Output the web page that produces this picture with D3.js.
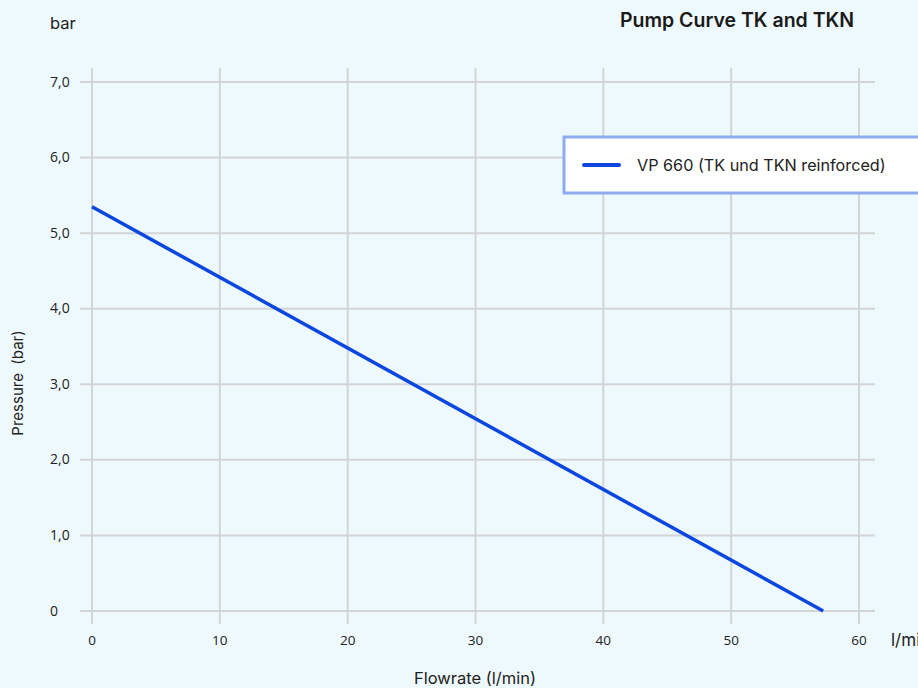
<!DOCTYPE html>
<html>
<head>
<meta charset="utf-8">
<script src="https://cdn.jsdelivr.net/npm/d3@7"></script>
<style>
  body { margin: 0; background: #eef9fd; }
  svg { display: block; font-family: Inter, Roboto, sans-serif; }
</style>
</head>
<body>
<div id="chart-container"></div>
<script>
// chart data
const seriesName = "VP 660 (TK und TKN reinforced)";
const flowrate = [0, 57.2];
const pressure = [5.35, 0];
const xTicks = [0, 10, 20, 30, 40, 50, 60];
const yTicks = [0, 1, 2, 3, 4, 5, 6, 7];
const yTickLabels = ["0", "1,0", "2,0", "3,0", "4,0", "5,0", "6,0", "7,0"];

const width = 918;
const height = 688;

const svg = d3.select("#chart-container")
    .append("svg")
    .attr("width", width)
    .attr("height", height);

svg.append("rect").attr("width", width).attr("height", height).attr("fill", "#eef9fd");

const xScale = d3.scaleLinear().domain([0, 60]).range([92, 859]);
const yScale = d3.scaleLinear().domain([0, 7]).range([611, 82]);

// grid
svg.selectAll(".vgrid")
    .data(xTicks)
    .enter()
    .append("line")
    .attr("x1", d => xScale(d))
    .attr("x2", d => xScale(d))
    .attr("y1", 68)
    .attr("y2", 624)
    .attr("stroke", "#d2d4d6")
    .attr("stroke-width", 2);

svg.selectAll(".hgrid")
    .data(yTicks)
    .enter()
    .append("line")
    .attr("x1", 80)
    .attr("x2", 875)
    .attr("y1", d => yScale(d))
    .attr("y2", d => yScale(d))
    .attr("stroke", "#d2d4d6")
    .attr("stroke-width", 2);

// tick labels
svg.selectAll(".xlab")
    .data(xTicks)
    .enter()
    .append("text")
    .attr("x", d => xScale(d))
    .attr("y", 645)
    .attr("text-anchor", "middle")
    .attr("font-family", "'Open Sans', sans-serif")
    .attr("font-size", 13.5)
    .attr("fill", "#222")
    .text(d => d);

svg.selectAll(".ylab")
    .data(yTicks)
    .enter()
    .append("text")
    .attr("x", 50)
    .attr("y", d => yScale(d) + 4.5)
    .attr("font-family", "'Open Sans', sans-serif")
    .attr("font-size", 14)
    .attr("fill", "#222")
    .text((d, i) => yTickLabels[i]);

// units and titles
svg.append("text").attr("x", 50).attr("y", 29).attr("font-size", 16.5).attr("fill", "#222").text("bar");
svg.append("text").attr("x", 891).attr("y", 646).attr("font-size", 17).attr("fill", "#222").text("l/min");
svg.append("text").attr("x", 737).attr("y", 27).attr("text-anchor", "middle")
    .attr("font-size", 19.5).attr("font-weight", 600).attr("fill", "#1a1a1a").text("Pump Curve TK and TKN");
svg.append("text").attr("x", 475).attr("y", 684).attr("text-anchor", "middle")
    .attr("font-size", 16.5).attr("fill", "#222").text("Flowrate (l/min)");
svg.append("text")
    .attr("transform", "translate(23,383) rotate(-90)")
    .attr("text-anchor", "middle")
    .attr("font-size", 15).attr("fill", "#222")
    .attr("xml:space", "preserve")
    .text("Pressure  (bar)");

// series line
const points = flowrate.map((f, i) => [f, pressure[i]]);
svg.append("path")
    .datum(points)
    .attr("fill", "none")
    .attr("stroke", "#0b46e0")
    .attr("stroke-width", 3.5)
    .attr("d", d3.line().x(d => xScale(d[0])).y(d => yScale(d[1])));

// legend
const legend = svg.append("g").attr("transform", "translate(564,137)");
legend.append("rect")
    .attr("width", 360)
    .attr("height", 56)
    .attr("fill", "#fff")
    .attr("stroke", "#8eaaf0")
    .attr("stroke-width", 3);
legend.append("line")
    .attr("x1", 20).attr("x2", 55)
    .attr("y1", 28).attr("y2", 28)
    .attr("stroke", "#0b46e0")
    .attr("stroke-width", 4)
    .attr("stroke-linecap", "round");
legend.append("text")
    .attr("x", 73).attr("y", 33.5)
    .attr("font-size", 16.2)
    .attr("fill", "#222")
    .text(seriesName);
</script>
</body>
</html>
